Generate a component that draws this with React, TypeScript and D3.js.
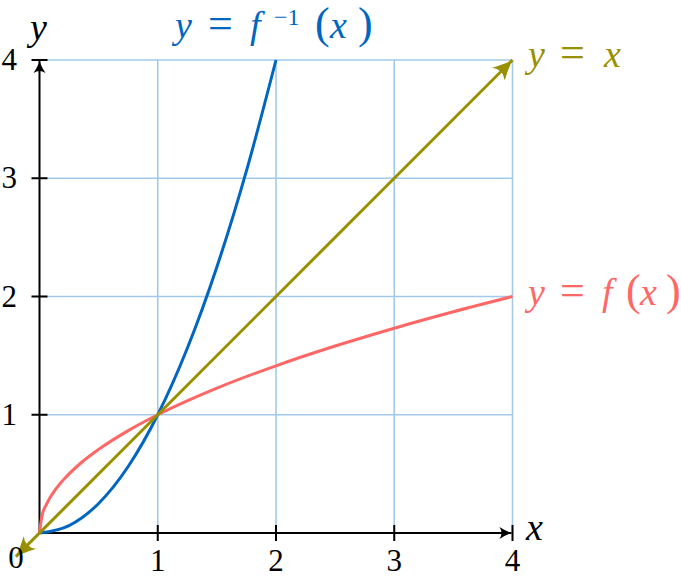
import * as d3 from "d3";

// tick values on both axes
const ticks = [1, 2, 3, 4];

// y = f(x)
const fX = [0, 0.02, 0.06, 0.12, 0.2, 0.35, 0.5, 0.75, 1, 1.5, 2, 2.5, 3, 3.5, 4];
const fY = [0, 0.14, 0.245, 0.346, 0.447, 0.592, 0.707, 0.866, 1, 1.225, 1.414, 1.581, 1.732, 1.871, 2];

// y = f^-1(x)
const gX = [0, 0.25, 0.5, 0.75, 1, 1.25, 1.5, 1.75, 2];
const gY = [0, 0.0625, 0.25, 0.5625, 1, 1.5625, 2.25, 3.0625, 4];

// y = x diagonal, drawn a little past the origin
const idX = [-0.2, 4];
const idY = [-0.2, 4];

const W = 681;
const H = 578;
const BLUE = "#0066bf";
const RED = "#ff6666";
const OLIVE = "#999000";
const GRID = "#a3c9ea";
const FONT = "'Liberation Serif', 'DejaVu Serif', serif";

// one formula drawn piece by piece, so the spacing looks like TeX
const Formula = ({ parts, base, fill }: { parts: [string, number, boolean, number, number?][]; base: number; fill: string }) => (
  <text fill={fill} fontFamily={FONT}>
    {parts.map(([s, px, it, fs, dy], i) => (
      <tspan key={i} x={px} y={base + (dy ?? 0)} fontStyle={it ? "italic" : "normal"} fontSize={fs}>
        {s}
      </tspan>
    ))}
  </text>
);

const App = () => {
  const x = d3.scaleLinear().domain([0, 4]).range([39.5, 512.5]);
  const y = d3.scaleLinear().domain([0, 4]).range([533, 60]);

  const line = d3
    .line<[number, number]>()
    .x((d) => x(d[0]))
    .y((d) => y(d[1]))
    .curve(d3.curveMonotoneX);

  const fPts = fX.map((v, i) => [v, fY[i]] as [number, number]);
  const gPts = gX.map((v, i) => [v, gY[i]] as [number, number]);
  const idPts = idX.map((v, i) => [v, idY[i]] as [number, number]);

  const tickLen = 8;
  const L = 38; // letter size
  const E = 44; // "=" and brackets

  return (
    <div style={{ position: "absolute", left: 0, top: 0 }}>
      <svg width={W} height={H} style={{ display: "block", background: "#fff" }}>
        <defs>
          <marker
            id="ax"
            markerUnits="userSpaceOnUse"
            viewBox="-14 -8 16 16"
            refX={0}
            refY={0}
            markerWidth={16}
            markerHeight={16}
            orient="auto"
          >
            <path d="M -12 -6 Q -5 -1.5 0 0 Q -5 1.5 -12 6 Q -8 0 -12 -6 Z" fill="#000" />
          </marker>
          <marker
            id="ol"
            markerUnits="userSpaceOnUse"
            viewBox="-22 -11 24 22"
            refX={0}
            refY={0}
            markerWidth={24}
            markerHeight={22}
            orient="auto-start-reverse"
          >
            <path d="M -20 -9 Q -8 -2.5 0 0 Q -8 2.5 -20 9 Q -13 0 -20 -9 Z" fill={OLIVE} />
          </marker>
        </defs>

        {/* grid */}
        <g stroke={GRID} strokeWidth={1.6}>
          {ticks.map((t) => (
            <line key={"v" + t} x1={x(t)} x2={x(t)} y1={y(0)} y2={y(4)} />
          ))}
          {ticks.map((t) => (
            <line key={"h" + t} x1={x(0)} x2={x(4)} y1={y(t)} y2={y(t)} />
          ))}
        </g>

        {/* axes */}
        <g stroke="#000" strokeWidth={2}>
          <line x1={x(0)} x2={x(4) - 1} y1={y(0)} y2={y(0)} markerEnd="url(#ax)" />
          <line x1={x(0)} x2={x(0)} y1={y(0)} y2={y(4) + 1} markerEnd="url(#ax)" />
          {ticks.map((t) => (
            <line key={"tx" + t} x1={x(t)} x2={x(t)} y1={y(0) - tickLen} y2={y(0) + tickLen} />
          ))}
          {ticks.map((t) => (
            <line key={"ty" + t} x1={x(0) - tickLen} x2={x(0) + tickLen} y1={y(t)} y2={y(t)} />
          ))}
        </g>

        {/* curves */}
        <path d={line(fPts) ?? ""} fill="none" stroke={RED} strokeWidth={3} />
        <path d={line(gPts) ?? ""} fill="none" stroke={BLUE} strokeWidth={3} />
        <path
          d={line(idPts) ?? ""}
          fill="none"
          stroke={OLIVE}
          strokeWidth={3}
          markerStart="url(#ol)"
          markerEnd="url(#ol)"
        />

        {/* tick labels */}
        <g fontFamily={FONT} fontSize={31} fill="#000">
          {ticks.map((t) => (
            <text key={"lx" + t} x={x(t)} y={571} textAnchor="middle">
              {t}
            </text>
          ))}
          {ticks.map((t) => (
            <text key={"ly" + t} x={17} y={y(t) + 10} textAnchor="end">
              {t}
            </text>
          ))}
          <text x={16} y={568} textAnchor="middle">0</text>
          <text x={526} y={540} fontStyle="italic" fontSize={L}>x</text>
          <text x={30} y={40} fontStyle="italic" fontSize={L}>y</text>
        </g>

        {/* curve labels */}
        <Formula
          fill={BLUE}
          base={38}
          parts={[
            ["y", 175, true, L],
            ["=", 208, false, E],
            ["f", 250, true, L],
            ["−1", 274, false, 24, -13],
            ["(", 315, false, E],
            ["x", 330, true, L],
            [")", 358, false, E],
          ]}
        />
        <Formula
          fill={OLIVE}
          base={67}
          parts={[
            ["y", 528, true, L],
            ["=", 560, false, E],
            ["x", 604, true, L],
          ]}
        />
        <Formula
          fill={RED}
          base={305}
          parts={[
            ["y", 528, true, L],
            ["=", 560, false, E],
            ["f", 602, true, L],
            ["(", 626, false, E],
            ["x", 640, true, L],
            [")", 666, false, E],
          ]}
        />
      </svg>
    </div>
  );
};

export default App;
